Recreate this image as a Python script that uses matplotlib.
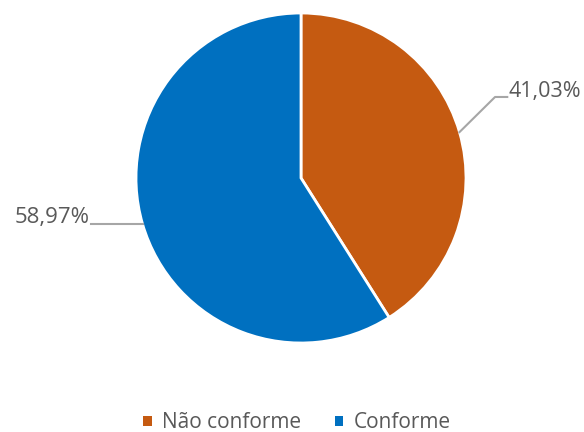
import numpy as np
import matplotlib
matplotlib.use("Agg")
import matplotlib.pyplot as plt
from matplotlib.patches import Patch

labels = ["Não conforme", "Conforme"]
values = [41.03, 58.97]
colors = ["#C55A11", "#0070C0"]
txt_color = "#595959"
line_color = "#A6A6A6"

plt.rcParams['font.family'] = ['Open Sans', 'DejaVu Sans']

fig = plt.figure(figsize=(5.84, 4.32), dpi=100)
# pie centre at (301, 178) px, radius 165 px
W, H = 584, 432
ax = fig.add_axes([(301 - 165) / W, (H - 178 - 165) / H, 330 / W, 330 / H])

wedges, _ = ax.pie(values, colors=colors, startangle=90, counterclock=False,
                   radius=1, wedgeprops=dict(edgecolor='white', linewidth=2))
ax.set_xlim(-1, 1)
ax.set_ylim(-1, 1)
ax.set_aspect('equal')
ax.axis('off')

for w, v in zip(wedges, values):
    ang = np.deg2rad((w.theta1 + w.theta2) / 2)
    x0, y0 = np.cos(ang), np.sin(ang)
    lab = f"{v:.2f}%".replace('.', ',')
    if x0 > 0:
        xs = [x0, 1.176, 1.25]
        ys = [y0, 0.491, 0.491]
        ax.plot(xs, ys, color=line_color, lw=1.5, clip_on=False)
        ax.text(1.255, 0.491, lab, ha='left', va='baseline', fontsize=15.5,
                color=txt_color, clip_on=False)
    else:
        xs = [x0, -1.27]
        ys = [y0, y0]
        ax.plot(xs, ys, color=line_color, lw=1.5, clip_on=False)
        ax.text(-1.28, y0 + 0.005, lab, ha='right', va='baseline', fontsize=16,
                color=txt_color, clip_on=False)

handles = [Patch(facecolor=c, edgecolor='none') for c in colors]
fig.legend(handles, labels, loc='center', bbox_to_anchor=(297 / W, 9 / H),
           ncol=2, frameon=False, fontsize=15, handlelength=0.42,
           handleheight=0.42, handletextpad=0.5, columnspacing=1.6,
           labelcolor=txt_color)

fig.savefig("out.png", dpi=100)
